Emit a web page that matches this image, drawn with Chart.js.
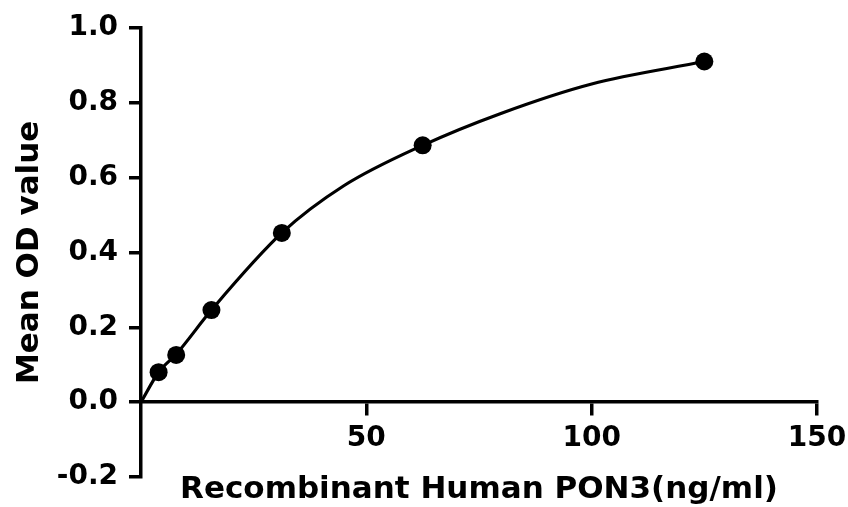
<!DOCTYPE html>
<html><head><meta charset="utf-8">
<script src="https://cdn.jsdelivr.net/npm/chart.js@4/dist/chart.umd.min.js"></script>
<style>html,body{margin:0;padding:0;background:#fff;}</style>
</head><body>
<canvas id="c" width="848" height="507" style="width:848px;height:507px;display:block"></canvas>
<script>
const concentrations = [3.91, 7.81, 15.63, 31.25, 62.5, 125];
const meanOD = [0.080, 0.126, 0.246, 0.452, 0.686, 0.910];
const curveX = [0, 3.91, 7.81, 15.63, 31.25, 45, 62.5, 80, 100, 125];
const curveY = [0, 0.080, 0.128, 0.246, 0.452, 0.578, 0.686, 0.772, 0.850, 0.910];
const xTicks = [50, 100, 150];
const yTicks = [-0.2, 0, 0.2, 0.4, 0.6, 0.8, 1.0];
const xTitle = 'Recombinant Human PON3(ng/ml)';
const yTitle = 'Mean OD value';

const FAMILY = '"DejaVu Sans", sans-serif';
const tickFont = {family: FAMILY, size: 28, weight: 'bold'};
const titleFont = {family: FAMILY, size: 31, weight: 'bold'};
const axisGrid = {display: true, drawOnChartArea: false, drawTicks: true, tickLength: 12, lineWidth: 3.5, color: '#000'};
const axisBorder = {display: true, width: 3.5, color: '#000'};

new Chart(document.getElementById('c'), {
  type: 'scatter',
  data: {
    datasets: [
      {
        data: concentrations.map((x, i) => ({x: x, y: meanOD[i]})),
        pointRadius: 9,
        pointBackgroundColor: '#000',
        pointBorderColor: '#000',
        pointBorderWidth: 0,
        showLine: false
      },
      {
        data: curveX.map((x, i) => ({x: x, y: curveY[i]})),
        showLine: true,
        pointRadius: 0,
        borderColor: '#000',
        borderWidth: 3.2,
        cubicInterpolationMode: 'monotone',
        fill: false
      }
    ]
  },
  options: {
    responsive: false,
    animation: false,
    devicePixelRatio: 1,
    layout: {padding: {left: 0, top: 23, right: 31, bottom: 30}},
    plugins: {legend: {display: false}, tooltip: {enabled: false}},
    scales: {
      x: {
        type: 'linear',
        min: 0, max: 150,
        position: {y: 0},
        afterBuildTicks: s => { s.ticks = xTicks.map(v => ({value: v})); },
        afterFit: s => { s.paddingRight = 0; s.paddingLeft = 0; },
        grid: axisGrid,
        border: axisBorder,
        ticks: {color: '#000', font: tickFont, padding: 8, maxRotation: 0, autoSkip: false},
        title: {display: true, text: xTitle, color: '#000', font: titleFont, padding: {top: 8, bottom: 0}}
      },
      y: {
        type: 'linear',
        min: -0.2, max: 1.0,
        afterBuildTicks: s => { s.ticks = yTicks.map(v => ({value: v})); },
        afterFit: s => { s.width = 141; },
        grid: axisGrid,
        border: axisBorder,
        ticks: {color: '#000', font: tickFont, padding: 11, callback: v => Number(v).toFixed(1), autoSkip: false},
        title: {display: true, text: yTitle, color: '#000', font: titleFont, padding: {top: 11, bottom: 0}}
      }
    }
  }
});
</script>
</body></html>
